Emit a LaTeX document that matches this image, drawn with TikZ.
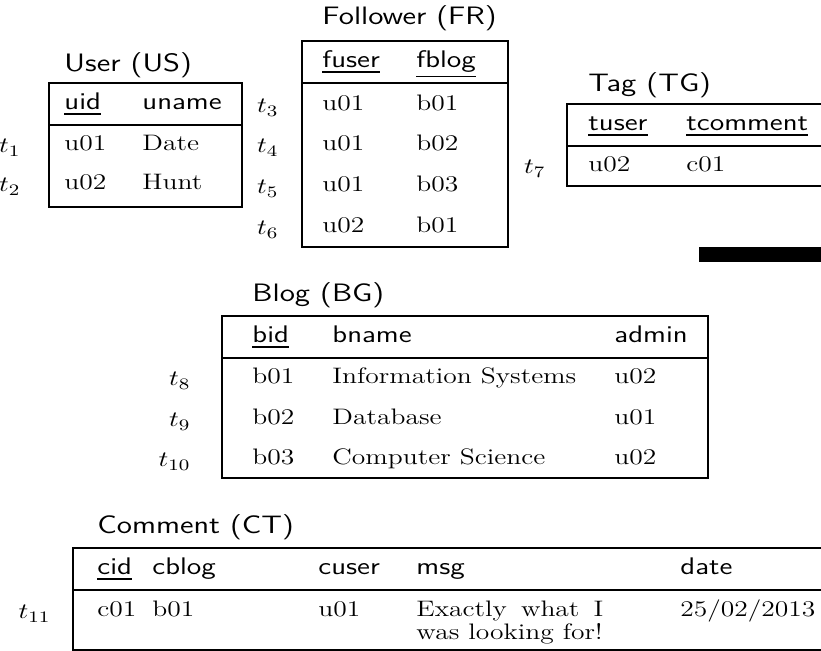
\documentclass[tikz,border=0pt]{standalone}
% key attribute: text with a heavier rule below it
\newcommand{\keyattr}[1]{\vtop{\hbox{#1}\kern1.3pt\hrule height 0.9pt}}
\begin{document}
\begin{tikzpicture}[x=0.5pt, y=-0.5pt,
  frame/.style={line width=0.9pt},
  cell/.style={anchor=base west, inner sep=0pt, xscale=1.23, transform shape,
               font=\fontsize{11.2}{13}\selectfont},
  hd/.style={cell, font=\fontsize{12}{14}\sffamily},
  ttl/.style={cell, font=\fontsize{12.6}{15}\sffamily},
  lbl/.style={anchor=base east, inner sep=0pt, xscale=1.23, transform shape,
              font=\fontsize{11}{13}\selectfont}]
\useasboundingbox (0,0) rectangle (821,651);
\clip (0,0) rectangle (821,651);

% ---------- User (US) ----------
\node[ttl] (us-title) at (64,72) {User (US)};
\draw[frame] (49,83) rectangle (242,207);
\draw[frame] (49,125) -- (242,125);
\node[hd] (us-h1) at (64,110) {\keyattr{uid}};
\node[hd] (us-h2) at (142,110) {uname};
\node[cell] (us-11) at (64,151) {u01};
\node[cell] (us-12) at (142,151) {Date};
\node[cell] (us-21) at (64,190) {u02};
\node[cell] (us-22) at (142,190) {Hunt};
\node[lbl] (t1) at (21,153) {$t_{1}$};
\node[lbl] (t2) at (21,192) {$t_{2}$};

% ---------- Follower (FR) ----------
\node[ttl] (fr-title) at (322,25) {Follower (FR)};
\draw[frame] (302,41) rectangle (508,247);
\draw[frame] (302,83) -- (508,83);
\node[hd] (fr-h1) at (322,68) {\keyattr{fuser}};
\node[hd] (fr-h2) at (416,68) {\keyattr{fblog}};
\node[cell] (fr-11) at (322,111) {u01};
\node[cell] (fr-12) at (416,111) {b01};
\node[cell] (fr-21) at (322,151) {u01};
\node[cell] (fr-22) at (416,151) {b02};
\node[cell] (fr-31) at (322,192) {u01};
\node[cell] (fr-32) at (416,192) {b03};
\node[cell] (fr-41) at (322,233) {u02};
\node[cell] (fr-42) at (416,233) {b01};
\node[lbl] (t3) at (279,113) {$t_{3}$};
\node[lbl] (t4) at (279,153) {$t_{4}$};
\node[lbl] (t5) at (279,194) {$t_{5}$};
\node[lbl] (t6) at (279,235) {$t_{6}$};

% ---------- Tag (TG) ----------
\node[ttl] (tg-title) at (588,92) {Tag (TG)};
\draw[frame] (840,104) -- (567,104) -- (567,186) -- (840,186);
\draw[frame] (567,146) -- (840,146);
\node[hd] (tg-h1) at (588,131) {\keyattr{tuser}};
\node[hd] (tg-h2) at (686,131) {\keyattr{tcomment}};
\node[cell] (tg-11) at (588,172) {u02};
\node[cell] (tg-12) at (686,172) {c01};
\node[lbl] (t7) at (546,174) {$t_{7}$};

% black bar
\fill (699,247) rectangle (830,262);

% ---------- Blog (BG) ----------
\node[ttl] (bg-title) at (252,302) {Blog (BG)};
\draw[frame] (222,316) rectangle (708,478);
\draw[frame] (222,358) -- (708,358);
\node[hd] (bg-h1) at (252,343) {\keyattr{bid}};
\node[hd] (bg-h2) at (332,343) {bname};
\node[hd] (bg-h3) at (614,343) {admin};
\node[cell] (bg-11) at (252,384) {b01};
\node[cell] (bg-12) at (332,384) {Information Systems};
\node[cell] (bg-13) at (614,384) {u02};
\node[cell] (bg-21) at (252,425) {b02};
\node[cell] (bg-22) at (332,425) {Database};
\node[cell] (bg-23) at (614,425) {u01};
\node[cell] (bg-31) at (252,465) {b03};
\node[cell] (bg-32) at (332,465) {Computer Science};
\node[cell] (bg-33) at (614,465) {u02};
\node[lbl] (t8) at (191,386) {$t_{8}$};
\node[lbl] (t9) at (191,427) {$t_{9}$};
\node[lbl] (t10) at (191,467) {$t_{10}$};

% ---------- Comment (CT) ----------
\node[ttl] (ct-title) at (97,534) {Comment (CT)};
\draw[frame] (840,548) -- (73,548) -- (73,650) -- (840,650);
\draw[frame] (73,590) -- (840,590);
\node[hd] (ct-h1) at (97,575) {\keyattr{cid}};
\node[hd] (ct-h2) at (152,575) {cblog};
\node[hd] (ct-h3) at (318,575) {cuser};
\node[hd] (ct-h4) at (416,575) {msg};
\node[hd] (ct-h5) at (680,575) {date};
\node[cell] (ct-11) at (97,617) {c01};
\node[cell] (ct-12) at (152,617) {b01};
\node[cell] (ct-13) at (318,617) {u01};
\node[cell] (ct-14) at (416,617) {\makebox[76pt][s]{Exactly what I}};
\node[cell] (ct-14b) at (416,640) {was looking for!};
\node[cell] (ct-15) at (680,617) {25/02/2013};
\node[lbl] (t11) at (51,619) {$t_{11}$};
\end{tikzpicture}
\end{document}
